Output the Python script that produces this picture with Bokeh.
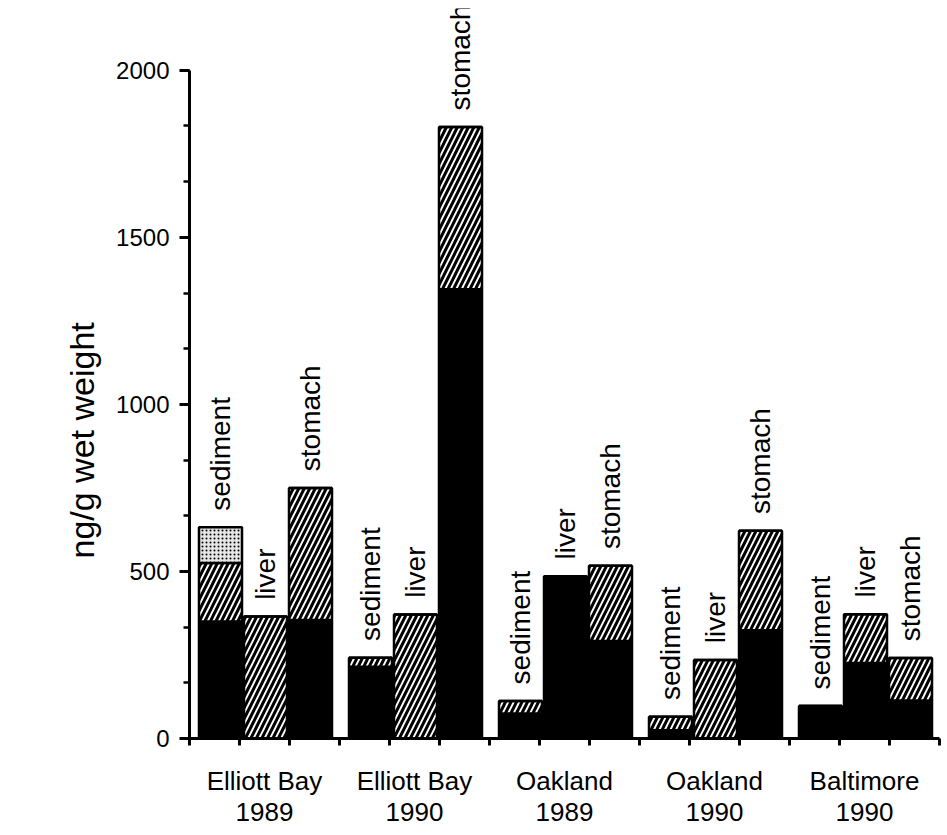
import math
from bokeh.plotting import figure
from bokeh.models import (FixedTicker, LinearAxis, Range1d, Title, ColumnDataSource)
from bokeh.core.properties import value
from bokeh.embed import file_html
from bokeh.resources import INLINE

# ---- data ----
groups = ["Elliott Bay\n1989", "Elliott Bay\n1990", "Oakland\n1989", "Oakland\n1990", "Baltimore\n1990"]
tissues = ["sediment", "liver", "stomach"]
# per bar (groups x tissues), ng/g wet weight
black =    [350, 0, 355,   215, 0, 1345,   75, 486, 292,   25, 0, 324,   97, 226, 114]
hatched =  [175, 365, 395, 27, 371, 485,   37, 0, 225,     40, 235, 298, 0, 146, 127]
stippled = [107, 0, 0,     0, 0, 0,        0, 0, 0,        0, 0, 0,      0, 0, 0]
y_ticks = [0, 500, 1000, 1500, 2000]

FONT = "Liberation Sans"

# ---- layout helpers ----
offsets = [0.62, 1.52, 2.42]
xs = [3 * g + offsets[t] for g in range(len(groups)) for t in range(len(tissues))]
labels = [tissues[t] for g in range(len(groups)) for t in range(len(tissues))]
b1 = list(black)
t1 = [b + h for b, h in zip(black, hatched)]
t2 = [a + s for a, s in zip(t1, stippled)]
label_y = [v + 50 for v in t2]

src = ColumnDataSource(dict(x=xs, zero=[0] * len(xs), b1=b1, t1=t1, t2=t2,
                            ly=label_y, lab=labels))

p = figure(frame_width=750, frame_height=730,
           x_range=Range1d(0, 15), y_range=Range1d(0, 2185),
           x_axis_type=None, y_axis_type=None,
           output_backend="svg", toolbar_location=None,
           min_border_left=189, min_border_right=2, min_border_top=8,
           min_border_bottom=0)
p.outline_line_color = None
p.background_fill_color = "white"
p.border_fill_color = "white"

W = 0.86
p.vbar(x="x", width=W, bottom="zero", top="b1", source=src,
       fill_color="black", line_color="black", line_width=2.5)
p.vbar(x="x", width=W, bottom="b1", top="t1", source=src,
       fill_color="white", line_color="black", line_width=2.5,
       hatch_pattern="/", hatch_color="black", hatch_scale=11, hatch_weight=3)
p.vbar(x="x", width=W, bottom="t1", top="t2", source=src,
       fill_color="#e6e6e6", line_color="black", line_width=2.5,
       hatch_pattern=".", hatch_color="black", hatch_scale=4, hatch_weight=1)

p.text(x="x", y="ly", text="lab", source=src, angle=math.pi / 2,
       text_align="left", text_baseline="middle",
       text_font=value(FONT), text_font_size="28px", text_color="black")

# y axis
yax = LinearAxis(ticker=FixedTicker(ticks=y_ticks,
                                    minor_ticks=[i * 500 / 3 for i in range(13)]),
                 bounds=(0, 2000))
yax.axis_line_width = 3
yax.major_tick_line_width = 3
yax.minor_tick_line_width = 2.5
yax.major_tick_out = 10
yax.major_tick_in = 0
yax.minor_tick_out = 6
yax.minor_tick_in = 0
yax.major_label_standoff = 10
yax.major_label_text_font = FONT
yax.major_label_text_font_size = "24px"
yax.major_label_text_color = "black"
# invisible spacer label: pushes the title outward
yax.axis_label = "."
yax.axis_label_text_alpha = 0
yax.axis_label_text_font_size = "14px"
yax.axis_label_standoff = 0
p.add_layout(yax, "left")

# x axis with slot ticks
xax = LinearAxis(ticker=FixedTicker(ticks=list(range(16))))
xax.axis_line_width = 3
xax.major_tick_line_width = 3
xax.major_tick_out = 7
xax.major_tick_in = 0
xax.minor_tick_line_color = None
xax.major_label_text_font_size = "1px"
xax.major_label_text_color = None
xax.major_label_standoff = 0
p.add_layout(xax, "below")

# group label axis
centers = [3 * g + 1.5 for g in range(len(groups))]
gax = LinearAxis(ticker=FixedTicker(ticks=centers),
                 major_label_overrides={c: name for c, name in zip(centers, groups)})
gax.axis_line_color = None
gax.major_tick_line_color = None
gax.minor_tick_line_color = None
gax.major_tick_out = 0
gax.major_tick_in = 0
gax.major_label_standoff = 20
gax.major_label_text_font = FONT
gax.major_label_text_font_size = "26px"
gax.major_label_text_color = "black"
gax.major_label_text_line_height = 1.05
p.add_layout(gax, "below")

p.add_layout(Title(text="ng/g wet weight", align="left", offset=180,
                   standoff=0, text_font=FONT, text_font_size="34px",
                   text_font_style="normal", text_color="black"), "left")

open("out.html", "w").write(file_html(p, INLINE))
